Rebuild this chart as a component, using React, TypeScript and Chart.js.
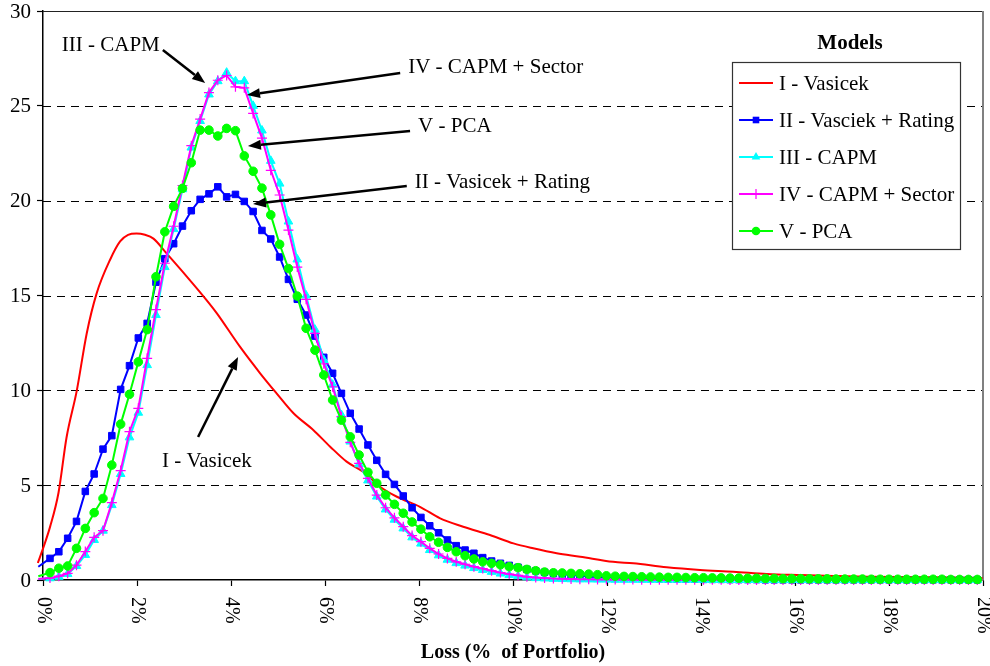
import React, { useEffect, useRef } from "react";
import { Chart, registerables } from "chart.js";

Chart.register(...registerables);

// ---------- DATA ----------
// Loss grid (% of portfolio) for the marker series
const leadLoss = -0.1;
const gridStartLoss = 0.149;
const gridStepLoss = 0.1879;
const gridCount = 106;
const markerLoss: number[] = [leadLoss].concat(
  Array.from({ length: gridCount }, (_, i) => +(gridStartLoss + i * gridStepLoss).toFixed(4))
);

// I - Vasicek (smooth curve)
const vasicekLoss = [
  -0.11, 0.02, 0.15, 0.33, 0.5, 0.72, 0.93, 1.14, 1.43, 1.64, 1.81, 1.99, 2.17, 2.35, 2.63, 3.06, 3.48,
  3.7, 4.19, 4.62, 4.97, 5.33, 5.75, 6.11, 6.46, 6.81, 7.17, 7.53, 8.02, 8.45, 8.94, 9.51, 10.01, 10.43,
  10.93, 11.43, 12.13, 12.56, 13.27, 13.98, 14.69, 15.4, 16.11, 16.82, 17.53, 18.94, 19.99,
];
const vasicekDensity = [
  0.9, 1.8, 2.8, 4.6, 7.5, 10.0, 13.0, 15.1, 16.9, 17.85, 18.2, 18.27, 18.2, 18.0, 17.22, 16.0, 14.76,
  14.06, 12.3, 10.9, 9.84, 8.79, 7.91, 7.03, 6.24, 5.71, 4.92, 4.39, 3.86, 3.25, 2.81, 2.37, 1.93, 1.67,
  1.41, 1.23, 0.96, 0.88, 0.67, 0.53, 0.44, 0.32, 0.26, 0.21, 0.17, 0.14, 0.1,
];

// II - Vasicek + Rating
const vasicekRatingDensity = [
  0.7,
  1.14, 1.49, 2.2, 3.09, 4.67, 5.59, 6.9, 7.61, 10.05, 11.3,
  12.76, 13.53, 15.7, 16.94, 17.73, 18.66, 19.47, 20.07, 20.36, 20.73,
  20.2, 20.33, 19.96, 19.43, 18.43, 17.98, 17.03, 15.85, 14.8, 13.97,
  12.86, 11.74, 10.9, 9.84, 8.79, 7.96, 7.12, 6.31, 5.57, 5.04,
  4.43, 3.81, 3.3, 2.86, 2.49, 2.11, 1.81, 1.58, 1.41, 1.18,
  1.0, 0.88, 0.77, 0.67, 0.56, 0.48, 0.41, 0.35, 0.3, 0.26,
  0.22, 0.19, 0.16, 0.14, 0.12, 0.1, 0.09, 0.08, 0.07, 0.06,
  0.05, 0.05, 0.04, 0.04, 0.03, 0.03, 0.03, 0.02, 0.02, 0.02,
  0.02, 0.01, 0.01, 0.01, 0.01, 0.01, 0.01, 0.01, 0.01, 0.01,
  0.01, 0.01, 0.01, 0.01, 0.01, 0.01, 0.01, 0.01, 0.01, 0.01,
  0.01, 0.01, 0.01, 0.01, 0.01, 0.01,
];

// III - CAPM
const capmDensity = [
  0.05,
  0.09, 0.17, 0.32, 0.74, 1.32, 2.11, 2.6, 3.95, 5.59, 7.52,
  8.82, 11.33, 13.97, 16.5, 18.5, 20.6, 22.8, 24.2, 25.6, 26.3,
  26.75, 26.3, 26.3, 25.0, 23.7, 22.1, 20.9, 18.9, 16.9, 15.0,
  13.2, 11.6, 10.3, 8.7, 7.3, 6.1, 5.25, 4.4, 3.72, 3.18,
  2.72, 2.25, 1.92, 1.58, 1.3, 1.07, 0.89, 0.76, 0.63, 0.53,
  0.43, 0.34, 0.26, 0.2, 0.14, 0.1, 0.08, 0.06, 0.05, 0.04,
  0.03, 0.03, 0.02, 0.02, 0.01, 0.01, 0.01, 0.01, 0.01, 0.01,
  0.01, 0.01, 0.01, 0.01, 0.01, 0, 0, 0, 0, 0,
  0, 0, 0, 0, 0, 0, 0, 0, 0, 0,
  0, 0, 0, 0, 0, 0, 0, 0, 0, 0,
  0, 0, 0, 0, 0, 0,
];

// IV - CAPM + Sector
const capmSectorDensity = [
  0.05,
  0.1, 0.2, 0.35, 0.78, 1.5, 2.25, 2.6, 4.08, 5.77, 7.82,
  9.05, 11.69, 14.26, 16.7, 18.65, 20.8, 22.9, 24.3, 25.7, 26.35,
  26.6, 26.0, 25.95, 24.6, 23.3, 21.6, 20.3, 18.45, 16.5, 14.8,
  13.0, 11.4, 10.19, 8.61, 7.26, 6.15, 5.36, 4.48, 3.81, 3.28,
  2.81, 2.34, 2.02, 1.67, 1.37, 1.14, 0.96, 0.83, 0.7, 0.6,
  0.49, 0.39, 0.31, 0.24, 0.17, 0.13, 0.1, 0.08, 0.06, 0.05,
  0.04, 0.04, 0.03, 0.03, 0.02, 0.02, 0.02, 0.01, 0.01, 0.01,
  0.01, 0.01, 0.01, 0.01, 0.01, 0.01, 0.01, 0, 0, 0,
  0, 0, 0, 0, 0, 0, 0, 0, 0, 0,
  0, 0, 0, 0, 0, 0, 0, 0, 0, 0,
  0, 0, 0, 0, 0, 0,
];

// V - PCA
const pcaDensity = [
  0.2,
  0.39, 0.62, 0.74, 1.67, 2.72, 3.55, 4.3, 6.06, 8.22, 9.79,
  11.5, 13.2, 15.99, 18.36, 19.7, 20.65, 22.0, 23.72, 23.72, 23.41,
  23.81, 23.69, 22.36, 21.55, 20.66, 19.25, 17.7, 16.42, 14.97, 13.27,
  12.12, 10.81, 9.49, 8.43, 7.55, 6.59, 5.68, 5.1, 4.48, 3.99,
  3.52, 3.06, 2.68, 2.28, 1.99, 1.72, 1.49, 1.28, 1.11, 0.96,
  0.88, 0.8, 0.7, 0.65, 0.56, 0.49, 0.42, 0.38, 0.37, 0.35,
  0.33, 0.31, 0.28, 0.22, 0.2, 0.19, 0.18, 0.17, 0.16, 0.15,
  0.14, 0.14, 0.13, 0.12, 0.12, 0.11, 0.11, 0.1, 0.1, 0.09,
  0.09, 0.08, 0.08, 0.07, 0.07, 0.07, 0.06, 0.06, 0.06, 0.05,
  0.05, 0.05, 0.05, 0.04, 0.04, 0.04, 0.04, 0.04, 0.04, 0.04,
  0.04, 0.04, 0.03, 0.03, 0.03, 0.03,
];

const seriesNames = ["I - Vasicek", "II - Vasciek + Rating", "III - CAPM", "IV - CAPM + Sector", "V - PCA"];
const xTickValues = [0, 2, 4, 6, 8, 10, 12, 14, 16, 18, 20];
const yTickValues = [0, 5, 10, 15, 20, 25, 30];
const yDashedGrid = [5, 10, 15, 20, 25];
const legendTitle = "Models";
const xAxisTitle = "Loss (%  of Portfolio)";

// Annotation labels and arrows (data units: loss %, density)
const annotationTexts = ["III - CAPM", "IV - CAPM + Sector", "V - PCA", "II - Vasicek + Rating", "I - Vasicek"];
const annotationTextPos = [
  [0.4, 28.2], [7.77, 27.0], [7.98, 23.93], [7.91, 20.98], [2.53, 6.27],
];
const annotationArrowFrom = [
  [2.55, 27.94], [7.6, 26.73], [7.81, 23.67], [7.74, 20.77], [3.3, 7.54],
];
const annotationArrowTo = [
  [3.45, 26.2], [4.34, 25.57], [4.36, 22.88], [4.47, 19.82], [4.15, 11.76],
];

// ---------- STYLE ----------
const FONT = '"Liberation Serif", "Times New Roman", serif';
const colors = ["#FF0000", "#0000FF", "#00FFFF", "#FF00FF", "#00FF00"];
const markerStyles = ["none", "rect", "triangle", "cross", "circle"];

function drawMarker(ctx: CanvasRenderingContext2D, style: string, x: number, y: number, color: string) {
  ctx.save();
  ctx.fillStyle = color;
  ctx.strokeStyle = color;
  ctx.lineWidth = 1.2;
  ctx.beginPath();
  if (style === "rect") {
    ctx.rect(x - 3.3, y - 3.3, 6.6, 6.6);
    ctx.fill();
  } else if (style === "triangle") {
    const r = 5;
    ctx.moveTo(x, y - r);
    ctx.lineTo(x + r * 0.866, y + r * 0.5);
    ctx.lineTo(x - r * 0.866, y + r * 0.5);
    ctx.closePath();
    ctx.fill();
  } else if (style === "cross") {
    ctx.moveTo(x - 5, y);
    ctx.lineTo(x + 5, y);
    ctx.moveTo(x, y - 5);
    ctx.lineTo(x, y + 5);
    ctx.stroke();
  } else if (style === "circle") {
    ctx.arc(x, y, 4.3, 0, Math.PI * 2);
    ctx.fill();
  }
  ctx.restore();
}

function drawArrow(ctx: CanvasRenderingContext2D, x1: number, y1: number, x2: number, y2: number) {
  const ang = Math.atan2(y2 - y1, x2 - x1);
  const headLen = 13;
  const headHalf = 5;
  const bx = x2 - Math.cos(ang) * headLen;
  const by = y2 - Math.sin(ang) * headLen;
  ctx.save();
  ctx.strokeStyle = "#000";
  ctx.fillStyle = "#000";
  ctx.lineWidth = 2.5;
  ctx.beginPath();
  ctx.moveTo(x1, y1);
  ctx.lineTo(bx, by);
  ctx.stroke();
  ctx.beginPath();
  ctx.moveTo(x2, y2);
  ctx.lineTo(bx + Math.sin(ang) * headHalf, by - Math.cos(ang) * headHalf);
  ctx.lineTo(bx - Math.sin(ang) * headHalf, by + Math.cos(ang) * headHalf);
  ctx.closePath();
  ctx.fill();
  ctx.restore();
}

const overlayPlugin = {
  id: "overlay",
  beforeDatasetsDraw(chart: any) {
    const { ctx, chartArea: a, scales } = chart;
    const y = scales.y;
    ctx.save();
    ctx.strokeStyle = "#000";
    ctx.lineWidth = 1;
    ctx.setLineDash([8, 6]);
    for (const v of yDashedGrid) {
      const py = Math.round(y.getPixelForValue(v)) + 0.5;
      ctx.beginPath();
      ctx.moveTo(a.left, py);
      ctx.lineTo(a.right, py);
      ctx.stroke();
    }
    ctx.setLineDash([]);
    ctx.strokeStyle = "#222";
    ctx.lineWidth = 1.2;
    ctx.beginPath();
    ctx.moveTo(a.left, a.top + 0.5);
    ctx.lineTo(a.right, a.top + 0.5);
    ctx.stroke();
    ctx.strokeStyle = "#808080";
    ctx.lineWidth = 2;
    ctx.beginPath();
    ctx.moveTo(a.right, a.top);
    ctx.lineTo(a.right, a.bottom);
    ctx.stroke();
    ctx.restore();
  },
  afterDraw(chart: any) {
    const { ctx, chartArea: a, scales } = chart;
    const xs = scales.x;
    const ys = scales.y;
    ctx.save();
    ctx.fillStyle = "#000";

    // y tick labels
    ctx.font = `21px ${FONT}`;
    ctx.textAlign = "right";
    ctx.textBaseline = "middle";
    for (const v of yTickValues) {
      ctx.fillText(String(v), a.left - 12, ys.getPixelForValue(v) + 1);
    }

    // rotated x tick labels (reading top to bottom)
    ctx.font = `20px ${FONT}`;
    for (const v of xTickValues) {
      const px = xs.getPixelForValue(v);
      ctx.save();
      ctx.translate(px, a.bottom + 17);
      ctx.rotate(Math.PI / 2);
      ctx.textAlign = "left";
      ctx.textBaseline = "middle";
      ctx.fillText(`${v}%`, 0, 0);
      ctx.restore();
    }

    // x axis title
    ctx.font = `bold 20px ${FONT}`;
    ctx.textAlign = "center";
    ctx.textBaseline = "middle";
    ctx.fillText(xAxisTitle, (a.left + a.right) / 2, 653);

    // annotations
    ctx.font = `21px ${FONT}`;
    ctx.textAlign = "left";
    ctx.textBaseline = "middle";
    annotationTexts.forEach((t, i) => {
      const [tx, ty] = annotationTextPos[i];
      ctx.fillText(t, xs.getPixelForValue(tx), ys.getPixelForValue(ty));
      const [fx, fy] = annotationArrowFrom[i];
      const [tox, toy] = annotationArrowTo[i];
      drawArrow(ctx, xs.getPixelForValue(fx), ys.getPixelForValue(fy), xs.getPixelForValue(tox), ys.getPixelForValue(toy));
    });

    // legend
    const boxL = a.right - 251;
    const boxR = a.right - 23;
    const boxT = 62;
    const boxB = 249;
    ctx.font = `bold 21px ${FONT}`;
    ctx.textAlign = "center";
    ctx.fillText(legendTitle, (boxL + boxR) / 2 + 4, 44);
    ctx.fillStyle = "#fff";
    ctx.fillRect(boxL, boxT, boxR - boxL, boxB - boxT);
    ctx.strokeStyle = "#333";
    ctx.lineWidth = 1.2;
    ctx.strokeRect(boxL + 0.5, boxT + 0.5, boxR - boxL, boxB - boxT);
    ctx.font = `21px ${FONT}`;
    ctx.textAlign = "left";
    seriesNames.forEach((name, i) => {
      const ry = boxT + 21 + i * 37;
      ctx.strokeStyle = colors[i];
      ctx.lineWidth = 2;
      ctx.beginPath();
      ctx.moveTo(boxL + 7, ry);
      ctx.lineTo(boxL + 41, ry);
      ctx.stroke();
      drawMarker(ctx, markerStyles[i], boxL + 24, ry, colors[i]);
      ctx.fillStyle = "#000";
      ctx.fillText(name, boxL + 47, ry + 1);
    });
    ctx.restore();
  },
};

function toPoints(xs: number[], ys: number[]) {
  return ys.map((v, i) => ({ x: xs[i], y: v }));
}

export default function App() {
  const canvasRef = useRef<HTMLCanvasElement | null>(null);

  useEffect(() => {
    if (!canvasRef.current) return;
    const clip = { left: 6, top: 4, right: 2, bottom: 8 };
    const hideLead = (r: number) => (c: any) => (c.dataIndex === 0 ? 0 : r);
    const markerSeries = [vasicekRatingDensity, capmDensity, capmSectorDensity, pcaDensity];
    const radii = [4.6, 5, 5, 4.3];
    const datasets: any[] = [
      {
        label: seriesNames[0],
        data: toPoints(vasicekLoss, vasicekDensity),
        borderColor: colors[0],
        backgroundColor: colors[0],
        borderWidth: 2,
        pointRadius: 0,
        cubicInterpolationMode: "monotone",
        clip,
        order: 4,
      },
    ];
    markerSeries.forEach((s, k) => {
      const i = k + 1;
      datasets.push({
        label: seriesNames[i],
        data: toPoints(markerLoss, s),
        borderColor: colors[i],
        backgroundColor: colors[i],
        pointBackgroundColor: colors[i],
        pointBorderColor: colors[i],
        pointBorderWidth: markerStyles[i] === "cross" ? 1.2 : 1,
        pointStyle: markerStyles[i],
        pointRadius: hideLead(radii[k]),
        borderWidth: 2,
        tension: 0,
        clip,
        order: 4 - i,
      });
    });

    const chart = new Chart(canvasRef.current, {
      type: "line",
      data: { datasets },
      options: {
        animation: false,
        responsive: true,
        maintainAspectRatio: false,
        events: [],
        layout: { padding: { left: 0, right: 7, top: 11, bottom: 0 } },
        plugins: { legend: { display: false }, tooltip: { enabled: false } },
        scales: {
          x: {
            type: "linear",
            min: 0,
            max: 20,
            ticks: { stepSize: 2, display: false },
            grid: { drawOnChartArea: false, drawTicks: true, tickLength: 6, tickColor: "#000", tickWidth: 1.2 },
            border: { display: true, color: "#000", width: 1.5 },
            afterFit: (s: any) => {
              s.height = 86;
            },
          },
          y: {
            type: "linear",
            min: 0,
            max: 30,
            ticks: { stepSize: 5, display: false },
            grid: { drawOnChartArea: false, drawTicks: true, tickLength: 6, tickColor: "#000", tickWidth: 1.2 },
            border: { display: true, color: "#000", width: 1.5 },
            afterFit: (s: any) => {
              s.width = 43;
            },
          },
        },
      } as any,
      plugins: [overlayPlugin],
    });
    return () => chart.destroy();
  }, []);

  return (
    <div style={{ position: "absolute", left: 0, top: 0, width: 990, height: 666, background: "#fff" }}>
      <canvas ref={canvasRef} />
    </div>
  );
}
